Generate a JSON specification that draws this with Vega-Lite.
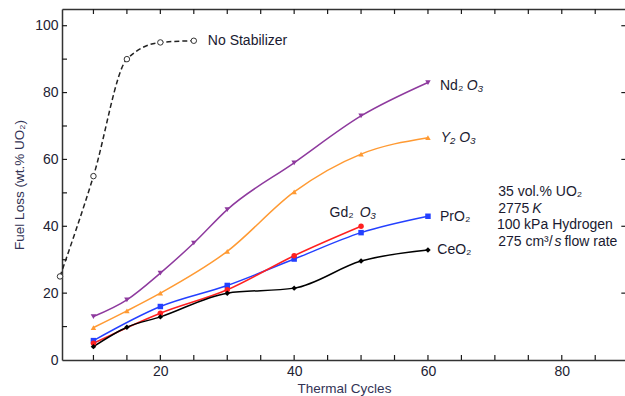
{
  "$schema": "https://vega.github.io/schema/vega-lite/v6.json",
  "width": 564,
  "height": 351,
  "autosize": "none",
  "padding": {"left": 62, "top": 9, "right": 0, "bottom": 36},
  "background": "white",
  "config": {
    "view": {"stroke": null},
    "font": "Liberation Sans",
    "axis": {"grid": false, "domainColor": "#333333", "domainWidth": 1.5, "labelFont": "Liberation Sans", "labelFontSize": 14, "labelColor": "#222233", "titleFont": "Liberation Sans", "titleFontSize": 13.5, "titleFontWeight": "normal", "titleColor": "#333355"}
  },
  "datasets": {
    "series": [
      {"series": "Nd2O3", "x": 10, "y": 13}, {"series": "Nd2O3", "x": 15, "y": 18}, {"series": "Nd2O3", "x": 20, "y": 26}, {"series": "Nd2O3", "x": 25, "y": 35}, {"series": "Nd2O3", "x": 30, "y": 45}, {"series": "Nd2O3", "x": 40, "y": 59}, {"series": "Nd2O3", "x": 50, "y": 73}, {"series": "Nd2O3", "x": 60, "y": 83},
      {"series": "Y2O3", "x": 10, "y": 9.7}, {"series": "Y2O3", "x": 15, "y": 14.7}, {"series": "Y2O3", "x": 20, "y": 20}, {"series": "Y2O3", "x": 30, "y": 32.5}, {"series": "Y2O3", "x": 40, "y": 50.3}, {"series": "Y2O3", "x": 50, "y": 61.6}, {"series": "Y2O3", "x": 60, "y": 66.5},
      {"series": "PrO2", "x": 10, "y": 5.8}, {"series": "PrO2", "x": 20, "y": 16}, {"series": "PrO2", "x": 30, "y": 22.3}, {"series": "PrO2", "x": 40, "y": 30.2}, {"series": "PrO2", "x": 50, "y": 38.1}, {"series": "PrO2", "x": 60, "y": 43},
      {"series": "Gd2O3", "x": 10, "y": 5}, {"series": "Gd2O3", "x": 20, "y": 14}, {"series": "Gd2O3", "x": 30, "y": 21}, {"series": "Gd2O3", "x": 40, "y": 31.2}, {"series": "Gd2O3", "x": 50, "y": 40},
      {"series": "CeO2", "x": 10, "y": 4}, {"series": "CeO2", "x": 15, "y": 9.8}, {"series": "CeO2", "x": 20, "y": 12.9}, {"series": "CeO2", "x": 30, "y": 20}, {"series": "CeO2", "x": 40, "y": 21.5}, {"series": "CeO2", "x": 50, "y": 29.6}, {"series": "CeO2", "x": 60, "y": 32.9}
    ],
    "nostab": [
      {"x": 5, "y": 25}, {"x": 10, "y": 55}, {"x": 15, "y": 90}, {"x": 20, "y": 95}, {"x": 25, "y": 95.5}
    ],
    "xticks": [
      {"v": 10}, {"v": 15}, {"v": 20}, {"v": 25}, {"v": 30}, {"v": 35}, {"v": 40}, {"v": 45}, {"v": 50}, {"v": 55}, {"v": 60}, {"v": 65}, {"v": 70}, {"v": 75}, {"v": 80}, {"v": 85}
    ],
    "yticks": [
      {"v": 10}, {"v": 20}, {"v": 30}, {"v": 40}, {"v": 50}, {"v": 60}, {"v": 70}, {"v": 80}, {"v": 90}, {"v": 100}
    ],
    "rticks": [
      {"v": 20}, {"v": 40}, {"v": 60}, {"v": 80}, {"v": 100}
    ],
    "labels": [
      {"x": 27.1, "y": 95.5, "t": "No Stabilizer"},
      {"x": 61.8, "y": 82, "t": "Nd₂"},
      {"x": 45.3, "y": 44.1, "t": "Gd₂"},
      {"x": 61.8, "y": 42.8, "t": "PrO₂"},
      {"x": 61.4, "y": 33, "t": "CeO₂"},
      {"x": 70.5, "y": 50.3, "t": "35 vol.% UO₂"},
      {"x": 70.5, "y": 45.3, "t": "2775"},
      {"x": 70.3, "y": 40.5, "t": "100 kPa Hydrogen"},
      {"x": 70.5, "y": 35.2, "t": "275 cm³/"},
      {"x": 80.4, "y": 35.2, "t": "flow rate"}
    ],
    "italic": [
      {"x": 65.8, "y": 82, "t": "O₃"},
      {"x": 61.9, "y": 66.5, "t": "Y₂ O₃"},
      {"x": 49.8, "y": 44.1, "t": "O₃"},
      {"x": 75.6, "y": 45.3, "t": "K"},
      {"x": 78.9, "y": 35.2, "t": "s"}
    ]
  },
  "resolve": {"axis": {"x": "independent", "y": "independent"}},
  "layer": [
    {
      "data": {"name": "series"},
      "mark": {"type": "line", "interpolate": "monotone", "strokeWidth": 1.5},
      "encoding": {
        "x": {"field": "x", "type": "quantitative", "scale": {"domain": [5.3, 89.6], "nice": false, "zero": false},
          "axis": {"orient": "bottom", "title": "Thermal Cycles", "values": [20, 40, 60, 80], "ticks": false, "labelPadding": 4, "titlePadding": 3, "labelFlush": false}},
        "y": {"field": "y", "type": "quantitative", "scale": {"domain": [0, 105], "nice": false},
          "axis": {"orient": "left", "title": "Fuel Loss (wt.% UO₂)", "values": [0, 20, 40, 60, 80, 100], "ticks": false, "labelPadding": 4, "titlePadding": 8, "labelFlush": false}},
        "color": {"field": "series", "type": "nominal", "scale": {"domain": ["Nd2O3", "Y2O3", "PrO2", "Gd2O3", "CeO2"], "range": ["#8E3A9E", "#FF9A33", "#2440FF", "#FF2020", "#000000"]}, "legend": null},
        "detail": {"field": "series"}
      }
    },
    {
      "data": {"name": "series"},
      "mark": {"type": "point", "filled": true, "opacity": 1, "size": 30},
      "encoding": {
        "x": {"field": "x", "type": "quantitative", "axis": {"orient": "top", "title": null, "labels": false, "ticks": false, "domain": true}},
        "y": {"field": "y", "type": "quantitative", "axis": null},
        "color": {"field": "series", "type": "nominal", "legend": null},
        "shape": {"field": "series", "type": "nominal", "scale": {"domain": ["Nd2O3", "Y2O3", "PrO2", "Gd2O3", "CeO2"], "range": ["triangle-down", "triangle-up", "square", "circle", "diamond"]}, "legend": null}
      }
    },
    {
      "data": {"name": "xticks"},
      "mark": {"type": "rule", "color": "#1a1a1a", "strokeWidth": 1.2},
      "encoding": {
        "x": {"field": "v", "type": "quantitative", "axis": null},
        "y": {"datum": 0, "type": "quantitative", "axis": null},
        "y2": {"datum": 1.5}
      }
    },
    {
      "data": {"name": "xticks"},
      "mark": {"type": "rule", "color": "#1a1a1a", "strokeWidth": 1.2},
      "encoding": {
        "x": {"field": "v", "type": "quantitative", "axis": null},
        "y": {"datum": 105, "type": "quantitative", "axis": null},
        "y2": {"datum": 103.5}
      }
    },
    {
      "data": {"name": "yticks"},
      "mark": {"type": "rule", "color": "#1a1a1a", "strokeWidth": 1.2},
      "encoding": {
        "y": {"field": "v", "type": "quantitative", "axis": null},
        "x": {"datum": 5.3, "type": "quantitative", "axis": null},
        "x2": {"datum": 6.05}
      }
    },
    {
      "data": {"name": "rticks"},
      "mark": {"type": "rule", "color": "#1a1a1a", "strokeWidth": 1.2},
      "encoding": {
        "y": {"field": "v", "type": "quantitative", "axis": null},
        "x": {"datum": 89.6, "type": "quantitative", "axis": null},
        "x2": {"datum": 88.9}
      }
    },
    {
      "data": {"name": "nostab"},
      "mark": {"type": "line", "interpolate": "monotone", "strokeWidth": 1.5, "strokeDash": [5, 3], "color": "#222222"},
      "encoding": {
        "x": {"field": "x", "type": "quantitative", "axis": null},
        "y": {"field": "y", "type": "quantitative", "axis": null}
      }
    },
    {
      "data": {"name": "nostab"},
      "mark": {"type": "point", "filled": false, "shape": "circle", "size": 30, "color": "#333333", "strokeWidth": 1, "fill": "white", "fillOpacity": 1},
      "encoding": {
        "x": {"field": "x", "type": "quantitative", "axis": null},
        "y": {"field": "y", "type": "quantitative", "axis": null}
      }
    },
    {
      "data": {"name": "labels"},
      "mark": {"type": "text", "align": "left", "baseline": "middle", "fontSize": 14, "color": "#1a1a30", "font": "Liberation Sans"},
      "encoding": {
        "x": {"field": "x", "type": "quantitative", "axis": null},
        "y": {"field": "y", "type": "quantitative", "axis": null},
        "text": {"field": "t"}
      }
    },
    {
      "data": {"name": "italic"},
      "mark": {"type": "text", "align": "left", "baseline": "middle", "fontSize": 14, "fontStyle": "italic", "color": "#1a1a30", "font": "Liberation Sans"},
      "encoding": {
        "x": {"field": "x", "type": "quantitative", "axis": null},
        "y": {"field": "y", "type": "quantitative", "axis": null},
        "text": {"field": "t"}
      }
    }
  ]
}
